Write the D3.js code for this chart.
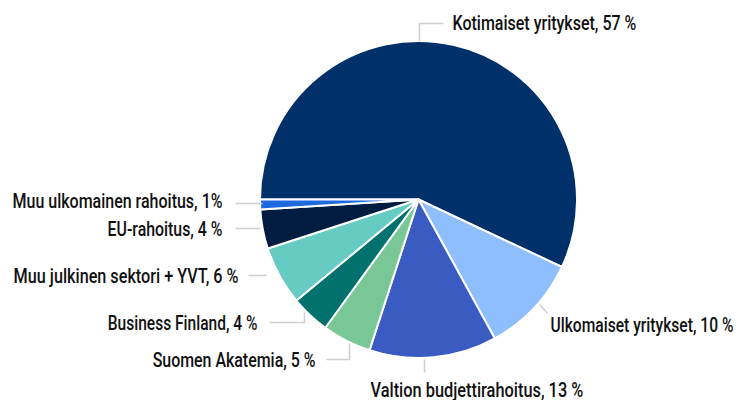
<!DOCTYPE html>
<html>
<head>
<meta charset="utf-8">
<script src="https://cdn.jsdelivr.net/npm/d3@7"></script>
<style>
  html, body { margin: 0; padding: 0; background: #fff; }
  svg { display: block; }
</style>
</head>
<body>
<svg id="chart" width="739" height="400"></svg>
<script>
// ---- data ----
const categories = [
  "Kotimaiset yritykset",
  "Ulkomaiset yritykset",
  "Valtion budjettirahoitus",
  "Suomen Akatemia",
  "Business Finland",
  "Muu julkinen sektori + YVT",
  "EU-rahoitus",
  "Muu ulkomainen rahoitus"
];
const values = [57, 10, 13, 5, 4, 6, 4, 1];
const labelTexts = [
  "Kotimaiset yritykset, 57 %",
  "Ulkomaiset yritykset, 10 %",
  "Valtion budjettirahoitus,  13 %",
  "Suomen Akatemia, 5 %",
  "Business Finland, 4 %",
  "Muu julkinen sektori + YVT, 6 %",
  "EU-rahoitus, 4 %",
  "Muu ulkomainen rahoitus, 1%"
];
const colors = ["#00306a", "#8ebefd", "#3a5bc1", "#79c796", "#00716d", "#66cbc3", "#001c41", "#1f69df"];

// ---- layout (relative to pie centre) ----
const labelLayout = [
  { x: 34,   y: -170, anchor: "start", w: 184, line: [[1, -158], [1, -176], [25, -176]] },
  { x: 132,  y: 132,  anchor: "start", w: 183, line: [[121, 105], [129, 114]] },
  { x: -48,  y: 197,  anchor: "start", w: 213, line: [[6, 160], [6, 173]] },
  { x: -103, y: 167,  anchor: "end",   w: 163, line: [[-92, 160], [-69, 160], [-69, 144]] },
  { x: -161, y: 130,  anchor: "end",   w: 150, line: [[-149, 123], [-114, 123], [-114, 113]] },
  { x: -180, y: 83,   anchor: "end",   w: 225, line: [[-170, 76], [-152, 76]] },
  { x: -196, y: 36,   anchor: "end",   w: 115, line: [[-183, 29], [-158, 29]] },
  { x: -196, y: 8,    anchor: "end",   w: 210, line: [[-183, 4], [-156, 4]] }
];

const cx = 418.5, cy = 199.5, radius = 158.5;
const startAngle = -Math.PI / 2;

const svg = d3.select("#chart");
const g = svg.append("g").attr("transform", `translate(${cx},${cy})`);

const data = categories.map((c, i) => ({ name: c, value: values[i], i }));

const pie = d3.pie()
  .value(d => d.value)
  .sort(null)
  .startAngle(startAngle)
  .endAngle(startAngle + 2 * Math.PI);

const arc = d3.arc().innerRadius(0).outerRadius(radius);

g.selectAll("path.slice")
  .data(pie(data))
  .join("path")
  .attr("class", "slice")
  .attr("d", arc)
  .attr("fill", d => colors[d.data.i])
  .attr("stroke", "#ffffff")
  .attr("stroke-width", 2)
  .attr("stroke-linejoin", "round");

// leader lines
const line = d3.line();
g.selectAll("path.leader")
  .data(labelLayout)
  .join("path")
  .attr("class", "leader")
  .attr("d", d => line(d.line))
  .attr("fill", "none")
  .attr("stroke", "#d0d0d0")
  .attr("stroke-width", 1.6);

// labels (horizontally condensed to mimic the narrow typeface)
g.selectAll("text.lbl")
  .data(labelLayout)
  .join("text")
  .attr("class", "lbl")
  .attr("text-anchor", d => d.anchor)
  .attr("font-family", "Roboto, 'Liberation Sans Narrow', sans-serif")
  .attr("font-weight", 500)
  .attr("font-size", 19.5)
  .attr("fill", "#111111")
  .text((d, i) => labelTexts[i])
  .each(function (d) {
    const natural = this.getComputedTextLength();
    const k = natural > 0 ? d.w / natural : 1;
    d3.select(this).attr("transform", `translate(${d.x},${d.y}) scale(${k},1)`);
  });
</script>
</body>
</html>
